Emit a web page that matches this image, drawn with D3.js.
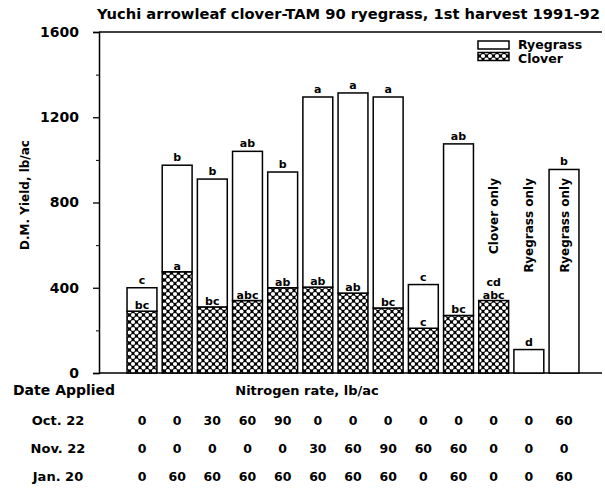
<!DOCTYPE html>
<html><head><meta charset="utf-8">
<script src="https://cdn.jsdelivr.net/npm/d3@7"></script>
<style>body{margin:0;background:#fff}svg{display:block}text{font-family:"DejaVu Sans",sans-serif;font-weight:bold;fill:#000}</style>
</head><body>
<script>
const categories = ["T1","T2","T3","T4","T5","T6","T7","T8","T9","T10","T11","T12","T13"];
const clover   = [290, 475, 310, 340, 400, 403, 375, 305, 210, 270, 340, 0, 0];
const ryegrass = [110, 500, 600, 700, 543, 892, 939, 990, 205, 805, 0, 110, 955];
const totalLetters  = ["c","b","b","ab","b","a","a","a","c","ab","cd","d","b"];
const cloverLetters = ["bc","a","bc","abc","ab","ab","ab","bc","c","bc","abc","",""];
const barNotes = ["","","","","","","","","","","Clover only","Ryegrass only","Ryegrass only"];
const yTicks = [0, 400, 800, 1200, 1600];
const yMinor = [200, 600, 1000, 1400];
const rowLabels = ["Oct. 22","Nov. 22","Jan. 20"];
const oct22 = [0,0,30,60,90,0,0,0,0,0,0,0,60];
const nov22 = [0,0,0,0,0,30,60,90,60,60,0,0,0];
const jan20 = [0,60,60,60,60,60,60,60,0,60,0,0,60];
const rows = [oct22, nov22, jan20];

const W = 605, H = 489;
const svg = d3.select("body").append("svg").attr("width", W).attr("height", H);

const defs = svg.append("defs");
const pat = defs.append("pattern").attr("id","hatch").attr("patternUnits","userSpaceOnUse")
  .attr("width",7).attr("height",7);
pat.append("rect").attr("width",7).attr("height",7).attr("fill","#000");
[[0,0],[7,0],[0,7],[7,7],[3.5,3.5]].forEach(([cx,cy])=>{
  pat.append("circle").attr("cx",cx).attr("cy",cy).attr("r",2.1).attr("fill","#fff");
});

const x = d3.scaleBand().domain(categories).range([124.4, 581.6]).paddingInner(0.15).paddingOuter(0.075);
const y = d3.scaleLinear().domain([0,1600]).range([373, 32]);
const axX = 99;

// Title
svg.append("text").attr("x", 97).attr("y", 19)
  .attr("textLength", 503).attr("lengthAdjust","spacingAndGlyphs")
  .style("font-size","14px").text("Yuchi arrowleaf clover-TAM 90 ryegrass, 1st harvest 1991-92");

// frame lines
svg.append("line").attr("x1",axX).attr("x2",602).attr("y1",y(1600)).attr("y2",y(1600)).attr("stroke","#000").attr("stroke-width",1.5);
svg.append("line").attr("x1",axX).attr("x2",602).attr("y1",y(0)).attr("y2",y(0)).attr("stroke","#000").attr("stroke-width",1.5);

// y axis
const yAxis = d3.axisLeft(y).tickValues(yTicks).tickSize(6).tickPadding(14).tickFormat(d3.format("d"));
const gy = svg.append("g").attr("transform",`translate(${axX},0)`).call(yAxis);
gy.select(".domain").attr("stroke-width",1.5);
gy.selectAll(".tick line").attr("stroke-width",1.3);
gy.selectAll("text").style("font-size","14px").style("font-family","'DejaVu Sans',sans-serif").style("font-weight","bold");
const gyMinor = svg.append("g").attr("transform",`translate(${axX},0)`)
  .call(d3.axisLeft(y).tickValues(yMinor).tickSize(3).tickFormat(""));
gyMinor.select(".domain").remove();

svg.append("text").attr("transform",`translate(29,195) rotate(-90)`).attr("text-anchor","middle")
  .style("font-size","12px").text("D.M. Yield, lb/ac");

// bars
const g = svg.append("g");
categories.forEach((c,i)=>{
  const x0 = x(c), bw = x.bandwidth();
  const total = clover[i] + ryegrass[i];
  if (clover[i] > 0) {
    g.append("rect").attr("x",x0).attr("y",y(clover[i])).attr("width",bw).attr("height",y(0)-y(clover[i]))
      .attr("fill","url(#hatch)").attr("stroke","#000").attr("stroke-width",1.5);
  }
  if (ryegrass[i] > 0) {
    g.append("rect").attr("x",x0).attr("y",y(total)).attr("width",bw).attr("height",y(clover[i])-y(total))
      .attr("fill","#fff").attr("stroke","#000").attr("stroke-width",1.5);
  }
  const cx = x0 + bw/2;
  const stackedLabel = (ryegrass[i] === 0 && cloverLetters[i]) ? 15 : 4;
  g.append("text").attr("x",cx).attr("y",y(total)-stackedLabel).attr("text-anchor","middle")
    .style("font-size","11px").text(totalLetters[i]);
  if (cloverLetters[i]) {
    g.append("text").attr("x",cx).attr("y",y(clover[i])-2).attr("text-anchor","middle")
      .style("font-size","11px").text(cloverLetters[i]);
  }
  if (barNotes[i]) {
    g.append("text").attr("transform",`translate(${cx+4.5},178) rotate(-90)`).attr("text-anchor","end")
      .style("font-size","12px").text(barNotes[i]);
  }
});

// legend
const lg = svg.append("g");
lg.append("rect").attr("x",478).attr("y",41).attr("width",31).attr("height",8).attr("fill","#fff").attr("stroke","#000").attr("stroke-width",1.5);
lg.append("rect").attr("x",478).attr("y",52.5).attr("width",31).attr("height",8).attr("fill","url(#hatch)").attr("stroke","#000").attr("stroke-width",1.5);
lg.append("text").attr("x",518).attr("y",49).style("font-size","12.5px").text("Ryegrass");
lg.append("text").attr("x",518).attr("y",63).style("font-size","12.5px").text("Clover");

// table
svg.append("text").attr("x",13).attr("y",395).style("font-size","14px").text("Date Applied");
svg.append("text").attr("x",307).attr("y",395).attr("text-anchor","middle").style("font-size","13px").text("Nitrogen rate, lb/ac");
const rowY = [425, 453, 481];
rows.forEach((r,ri)=>{
  svg.append("text").attr("x",58).attr("y",rowY[ri]).attr("text-anchor","middle").style("font-size","13px").text(rowLabels[ri]);
  r.forEach((v,i)=>{
    svg.append("text").attr("x",x(categories[i])+x.bandwidth()/2).attr("y",rowY[ri]).attr("text-anchor","middle")
      .style("font-size","12.5px").text(v);
  });
});
</script>
</body></html>
